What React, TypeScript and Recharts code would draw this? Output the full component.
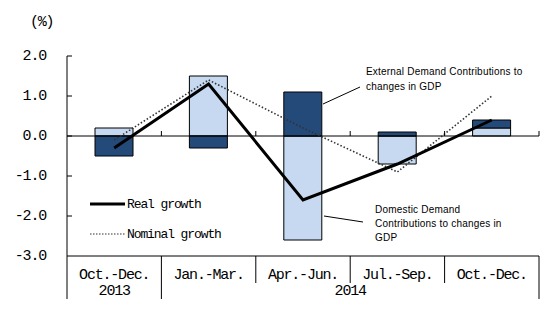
import React from 'react';
import { ComposedChart, Bar, Line, XAxis, YAxis, ReferenceLine } from 'recharts';

const quarters = ['Oct.-Dec.', 'Jan.-Mar.', 'Apr.-Jun.', 'Jul.-Sep.', 'Oct.-Dec.'];
const years = [
  { label: '2013', start: 0, span: 1 },
  { label: '2014', start: 1, span: 4 },
];
const domestic = [0.2, 1.5, -2.6, -0.7, 0.2];
const external = [-0.5, -0.3, 1.1, 0.1, 0.2];
const realGrowth = [-0.3, 1.3, -1.6, -0.7, 0.4];
const nominalGrowth = [-0.1, 1.4, 0.2, -0.9, 1.0];
const yTicks = [-3, -2, -1, 0, 1, 2];

const W = 554;
const H = 327;
const M = { top: 56, right: 15, bottom: 28, left: 0 };
const Y_AXIS_W = 67;
const X_AXIS_H = 43;
const PLOT_W = W - M.left - M.right - Y_AXIS_W;
const PLOT_H = H - M.top - M.bottom - X_AXIS_H;
const PLOT_BOTTOM = M.top + PLOT_H;
const BAND = PLOT_W / quarters.length;
const Y_MIN = -3;
const Y_MAX = 2;
const ZERO_Y = M.top + ((Y_MAX - 0) / (Y_MAX - Y_MIN)) * PLOT_H;

// narrow mono look, like the half-width Mincho in the original
const MONO = '"Liberation Mono", "DejaVu Sans Mono", monospace';
const SANS = '"Liberation Sans", Arial, sans-serif';
const labelFont = { fontFamily: MONO, fontSize: 15, letterSpacing: -1.2 };
const legendFont = { fontFamily: MONO, fontSize: 13, letterSpacing: -1.1 };

const data = quarters.map((q, i) => ({
  q,
  domestic: domestic[i],
  external: external[i],
  real: realGrowth[i],
  nominal: nominalGrowth[i],
}));

function YTick(props: any) {
  const { y, payload } = props;
  const ax = M.left + Y_AXIS_W;
  return (
    <g>
      {payload.value > Y_MIN && <line x1={ax} x2={ax + 5} y1={y} y2={y} stroke="#000" />}
      <text x={ax - 21} y={y} textAnchor="end" dominantBaseline="central" fill="#000" style={labelFont}>
        {Number(payload.value).toFixed(1)}
      </text>
    </g>
  );
}

function XTick(props: any) {
  const { x, index, payload } = props;
  const left = x - BAND / 2;
  const right = x + BAND / 2;
  const year = years.find((yr) => yr.start === index);
  const full = PLOT_BOTTOM + X_AXIS_H;
  return (
    <g>
      <text x={x} y={PLOT_BOTTOM + 19} textAnchor="middle" dominantBaseline="central" fill="#000" style={labelFont}>
        {payload.value}
      </text>
      <line x1={left} x2={left} y1={PLOT_BOTTOM} y2={year ? full : PLOT_BOTTOM + 27} stroke="#000" />
      {index === quarters.length - 1 && <line x1={right} x2={right} y1={PLOT_BOTTOM} y2={full} stroke="#000" />}
      <line x1={right} x2={right} y1={ZERO_Y} y2={ZERO_Y - 5} stroke="#000" />
      {year && (
        <text
          x={left + (BAND * year.span) / 2}
          y={PLOT_BOTTOM + 35}
          textAnchor="middle"
          dominantBaseline="central"
          fill="#000"
          style={labelFont}
        >
          {year.label}
        </text>
      )}
    </g>
  );
}

export default function App() {
  return (
    <div style={{ position: 'absolute', left: 0, top: 0, width: W, height: H, background: '#fff' }}>
      <ComposedChart width={W} height={H} data={data} margin={M} stackOffset="sign">
        <XAxis
          dataKey="q"
          height={X_AXIS_H}
          axisLine={{ stroke: '#000' }}
          tickLine={false}
          tick={<XTick />}
          interval={0}
        />
        <YAxis
          width={Y_AXIS_W}
          domain={[Y_MIN, Y_MAX]}
          ticks={yTicks}
          axisLine={{ stroke: '#000' }}
          tickLine={false}
          tick={<YTick />}
          allowDataOverflow
        />
        <Bar dataKey="domestic" stackId="gdp" fill="#c6d9f1" stroke="#000" strokeWidth={1} barSize={38} isAnimationActive={false} />
        <Bar dataKey="external" stackId="gdp" fill="#244a7a" stroke="#000" strokeWidth={1} barSize={38} isAnimationActive={false} />
        <ReferenceLine y={0} stroke="#000" />
        <Line dataKey="nominal" stroke="#333" strokeWidth={1.6} strokeDasharray="1.5 2" dot={false} isAnimationActive={false} />
        <Line dataKey="real" stroke="#000" strokeWidth={3} dot={false} isAnimationActive={false} />
      </ComposedChart>
      <svg width={W} height={H} style={{ position: 'absolute', left: 0, top: 0, pointerEvents: 'none' }}>
        <text x={30} y={22} dominantBaseline="central" style={labelFont}>(%)</text>
        <line x1={90} x2={125} y1={204} y2={204} stroke="#000" strokeWidth={3} />
        <text x={127} y={204} dominantBaseline="central" style={legendFont}>Real growth</text>
        <line x1={90} x2={125} y1={234} y2={234} stroke="#333" strokeWidth={1.2} strokeDasharray="1.5 1.5" />
        <text x={127} y={234} dominantBaseline="central" style={legendFont}>Nominal growth</text>
        <line x1={323} x2={360} y1={104} y2={87} stroke="#000" />
        <text fontFamily={SANS} fontSize={10} letterSpacing={0.2} fill="#000">
          <tspan x={366} y={75}>External  Demand Contributions to</tspan>
          <tspan x={366} y={90}>changes in GDP</tspan>
        </text>
        <line x1={324} x2={363} y1={216} y2={222} stroke="#000" />
        <text fontFamily={SANS} fontSize={10} letterSpacing={0.2} fill="#000">
          <tspan x={375} y={213}>Domestic Demand</tspan>
          <tspan x={375} y={227}>Contributions to changes in</tspan>
          <tspan x={375} y={241}>GDP</tspan>
        </text>
      </svg>
    </div>
  );
}
